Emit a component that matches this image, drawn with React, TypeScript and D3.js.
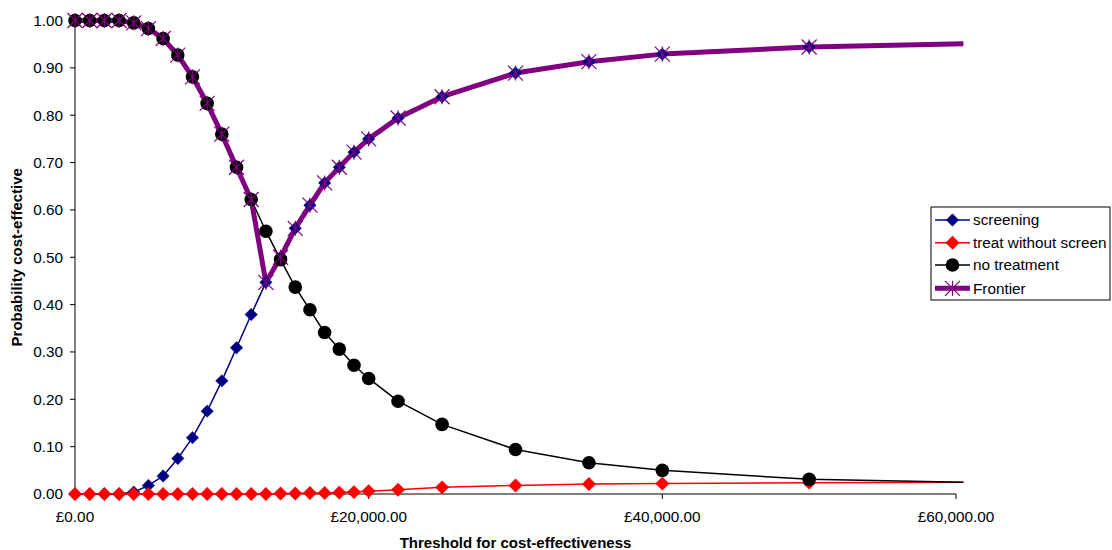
import React from "react";
import * as d3 from "d3";

const thresholds = [0,1000,2000,3000,4000,5000,6000,7000,8000,9000,10000,11000,12000,13000,14000,15000,16000,17000,18000,19000,20000,22000,25000,30000,35000,40000,50000,70000];
const screening = [0,0,0,0,0.004,0.018,0.038,0.075,0.119,0.175,0.239,0.309,0.379,0.447,0.500,0.561,0.610,0.657,0.690,0.722,0.750,0.794,0.839,0.889,0.913,0.929,0.944,0.957];
const treatWithoutScreen = [0,0,0,0,0,0,0,0,0,0,0,0,0,0,0.001,0.001,0.002,0.002,0.003,0.004,0.006,0.009,0.014,0.018,0.021,0.022,0.024,0.026];
const noTreatment = [1,1,1,1,0.995,0.983,0.962,0.927,0.881,0.825,0.760,0.690,0.622,0.555,0.495,0.437,0.389,0.341,0.306,0.272,0.244,0.196,0.147,0.094,0.066,0.050,0.031,0.0196];
const frontier = [1,1,1,1,0.995,0.983,0.962,0.927,0.881,0.825,0.760,0.690,0.622,0.447,0.500,0.561,0.610,0.657,0.690,0.722,0.750,0.794,0.839,0.889,0.913,0.929,0.944,0.957];

const xTicks = [0, 20000, 40000, 60000];
const yTicks = [0,0.1,0.2,0.3,0.4,0.5,0.6,0.7,0.8,0.9,1.0];
const xMax = 60000;
const xClipMax = 60500;

const seriesNames = ["screening", "treat without screen", "no treatment", "Frontier"];

const W = 1112, H = 550;
const M = { left: 75, right: 956, top: 20.5, bottom: 494 };
const FONT = "Arial, 'Liberation Sans', sans-serif";

const x = d3.scaleLinear().domain([0, xMax]).range([M.left, M.right]);
const y = d3.scaleLinear().domain([0, 1]).range([M.bottom, M.top]);

type Kind = "diamondB" | "diamondR" | "circle" | "star";

const series = [
  { name: seriesNames[0], values: screening, color: "#000080", width: 1.5, marker: "diamondB" as Kind },
  { name: seriesNames[1], values: treatWithoutScreen, color: "#FF0000", width: 1.5, marker: "diamondR" as Kind },
  { name: seriesNames[2], values: noTreatment, color: "#000000", width: 1.5, marker: "circle" as Kind },
  { name: seriesNames[3], values: frontier, color: "#800080", width: 5, marker: "star" as Kind },
];

function Marker({ kind, cx, cy }: { kind: Kind; cx: number; cy: number }) {
  if (kind === "diamondB" || kind === "diamondR") {
    const r = kind === "diamondB" ? 6.2 : 6.7;
    const c = kind === "diamondB" ? "#000080" : "#FF0000";
    return <path d={`M${cx},${cy - r}L${cx + r},${cy}L${cx},${cy + r}L${cx - r},${cy}Z`} fill={c} stroke={c} strokeWidth={0.5} />;
  }
  if (kind === "circle") {
    return <circle cx={cx} cy={cy} r={6.8} fill="#000" />;
  }
  const s = 7.5;
  return (
    <g stroke="#800080" strokeWidth={1.2} fill="none">
      <line x1={cx - s} y1={cy - s} x2={cx + s} y2={cy + s} />
      <line x1={cx - s} y1={cy + s} x2={cx + s} y2={cy - s} />
      <line x1={cx} y1={cy - s} x2={cx} y2={cy + s} />
    </g>
  );
}

export default function App() {
  const line = d3.line<number>().x((_, i) => x(thresholds[i])).y((d) => y(d));
  const fmtX = (v: number) => "£" + d3.format(",.2f")(v);
  const fmtY = d3.format(".2f");
  const legendX = 931, legendY = 207, legendW = 179, legendH = 93;
  const rowY = [220, 242.7, 265, 288.3];

  return (
    <svg width={W} height={H} style={{ position: "absolute", left: 0, top: 0, background: "#fff" }} fontFamily={FONT}>
      <defs>
        <clipPath id="plotClip">
          <rect x={0} y={0} width={x(xClipMax)} height={H} />
        </clipPath>
      </defs>
      {/* axes */}
      <line x1={M.left} y1={M.top} x2={M.left} y2={M.bottom} stroke="#000" strokeWidth={1} />
      <line x1={M.left} y1={M.bottom} x2={M.right} y2={M.bottom} stroke="#000" strokeWidth={1} />
      {yTicks.map((t) => (
        <g key={"y" + t}>
          <line x1={M.left - 5} x2={M.left} y1={y(t)} y2={y(t)} stroke="#000" />
          <text x={63} y={y(t)} dy="0.35em" textAnchor="end" fontSize={15.3} fill="#000">{fmtY(t)}</text>
        </g>
      ))}
      {xTicks.map((t) => (
        <g key={"x" + t}>
          <line x1={x(t)} x2={x(t)} y1={M.bottom} y2={M.bottom + 5} stroke="#000" />
          <text x={x(t)} y={522} textAnchor="middle" fontSize={15.3} fill="#000">{fmtX(t)}</text>
        </g>
      ))}
      <text x={(M.left + M.right) / 2} y={548} textAnchor="middle" fontSize={15} fontWeight="bold">Threshold for cost-effectiveness</text>
      <text transform={`translate(22,${(M.top + M.bottom) / 2}) rotate(-90)`} textAnchor="middle" fontSize={15} fontWeight="bold">Probability cost-effective</text>

      <g clipPath="url(#plotClip)">
        {series.map((s) => (
          <path key={"l" + s.name} d={line(s.values) || ""} fill="none" stroke={s.color} strokeWidth={s.width} strokeLinejoin="round" />
        ))}
        {series.map((s) => (
          <g key={"m" + s.name}>
            {s.values.map((v, i) =>
              thresholds[i] <= xMax ? <Marker key={i} kind={s.marker} cx={x(thresholds[i])} cy={y(v)} /> : null
            )}
          </g>
        ))}
      </g>

      {/* legend */}
      <rect x={legendX} y={legendY} width={legendW} height={legendH} fill="#fff" stroke="#000" strokeWidth={1} />
      {series.map((s, i) => (
        <g key={"lg" + s.name}>
          <line x1={935} x2={970} y1={rowY[i]} y2={rowY[i]} stroke={s.color} strokeWidth={s.width} />
          <Marker kind={s.marker} cx={952.5} cy={rowY[i]} />
          <text x={973} y={rowY[i]} dy="0.35em" fontSize={15.3} fill="#000">{s.name}</text>
        </g>
      ))}
    </svg>
  );
}
